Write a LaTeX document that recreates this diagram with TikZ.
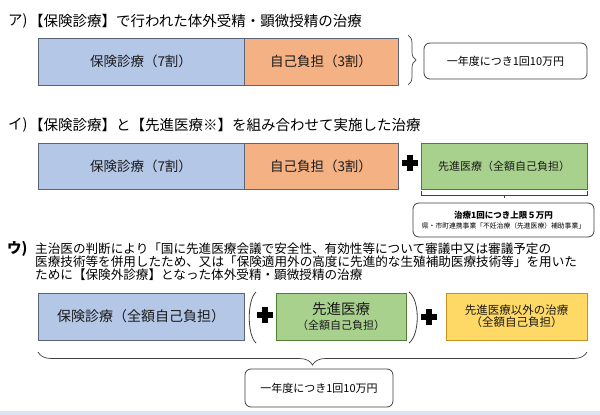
\documentclass[tikz,border=0pt]{standalone}
\usepackage{fontspec}
\setmainfont{Noto Sans CJK JP}
\usetikzlibrary{positioning,decorations.pathreplacing}
\definecolor{IvfBlue}{HTML}{B4C7E7}
\definecolor{IvfOrange}{HTML}{F4B183}
\definecolor{IvfGreen}{HTML}{A9D18E}
\definecolor{IvfYellow}{HTML}{FFD966}
\definecolor{IvfFrame}{HTML}{5B6577}
\definecolor{IvfGreenLine}{HTML}{507E32}
\definecolor{IvfYellowLine}{HTML}{C4901E}
\definecolor{IvfLine}{HTML}{404040}
\definecolor{IvfInk}{HTML}{1A1A1A}
\definecolor{IvfBand}{HTML}{DCE6F2}

\begin{document}
\begin{tikzpicture}[x=1pt,y=-1pt,
  part/.style={draw=IvfFrame,line width=0.8pt,minimum height=47pt,inner sep=0pt,
    outer sep=0pt,text=IvfInk,anchor=north west},
  memo/.style={draw=IvfLine,line width=0.8pt,rounded corners=6pt,fill=white,
    align=center,inner sep=0pt,outer sep=0pt},
  head/.style={anchor=west,inner sep=0pt,font=\fontsize{14.5}{17}\selectfont},
  plussign/.style={minimum size=16pt,inner sep=0pt,path picture={
    \fill[black] ([shift={(-8pt,-2.6pt)}]path picture bounding box.center)
      rectangle ([shift={(8pt,2.6pt)}]path picture bounding box.center);
    \fill[black] ([shift={(-2.6pt,-8pt)}]path picture bounding box.center)
      rectangle ([shift={(2.6pt,8pt)}]path picture bounding box.center);}},
  bracket/.style={IvfLine,line width=0.7pt,decorate}]
  \useasboundingbox[fill=white] (0,0) rectangle (600,415);
  \fill[IvfBand] (0,411) rectangle (600,415);

  % case A
  \node[head] (labA) at (8,21) {ア)};
  \node[head] (titleA) at (29,21) {【保険診療】で行われた体外受精・顕微授精の治療};
  \node[part,fill=IvfBlue,minimum width=206pt,font=\fontsize{13.5}{16}\selectfont]
    (insA) at (38,38) {保険診療（7割）};
  \node[part,fill=IvfOrange,minimum width=154pt,font=\fontsize{13.5}{16}\selectfont,
    right=0pt of insA] (selfA) {自己負担（3割）};
  \draw[bracket,decoration={brace,amplitude=8pt}]
    ([shift={(10pt,3pt)}]selfA.north east) -- ([xshift=10pt]selfA.south east);
  \node[memo,minimum width=163pt,minimum height=36pt,font=\fontsize{11}{13}\selectfont]
    (capA) at (505.5,61) {一年度につき1回10万円};

  % case B
  \node[head] (labB) at (8,125) {イ)};
  \node[head] (titleB) at (29,125) {【保険診療】と【先進医療※】を組み合わせて実施した治療};
  \node[part,fill=IvfBlue,minimum width=206pt,minimum height=46pt,
    font=\fontsize{13.5}{16}\selectfont] (insB) at (38,143) {保険診療（7割）};
  \node[part,fill=IvfOrange,minimum width=154pt,minimum height=46pt,
    font=\fontsize{13.5}{16}\selectfont,right=0pt of insB] (selfB) {自己負担（3割）};
  \node[plussign] (plusB) at (410,163) {};
  \node[part,fill=IvfGreen,draw=IvfGreenLine,minimum width=166pt,minimum height=46pt,
    font=\fontsize{11}{13}\selectfont] (advB) at (421,143) {先進医療（全額自己負担）};
  \draw[IvfLine,line width=0.6pt] ([yshift=-2pt]advB.south west)
    -- ([yshift=-6pt]advB.south west) -- ([yshift=-6pt]advB.south east)
    -- ([yshift=-2pt]advB.south east);
  \draw[IvfLine,line width=0.6pt] ([yshift=-6pt]advB.south) -- ([yshift=-9pt]advB.south);
  \node[memo,minimum width=181pt,minimum height=34pt,font=\fontsize{6.8}{10}\selectfont]
    (capB) at (503.5,220)
    {{\bfseries\fontsize{8.5}{10}\selectfont 治療1回につき上限５万円}\\
     県・市町連携事業「不妊治療（先進医療）補助事業」};

  % case C
  \node[head,font=\bfseries\fontsize{14.5}{17}\selectfont] (labC) at (7,249) {ウ)};
  \node[anchor=west,inner sep=0pt,align=left,font=\fontsize{12.6}{13}\selectfont]
    (textC) at (35,262)
    {主治医の判断により「国に先進医療会議で安全性、有効性等について審議中又は審議予定の\\
     医療技術等を併用したため、又は「保険適用外の高度に先進的な生殖補助医療技術等」を用いた\\
     ために【保険外診療】となった体外受精・顕微授精の治療};
  \node[part,fill=IvfBlue,minimum width=206pt,font=\fontsize{14}{17}\selectfont]
    (insC) at (38,293) {保険診療（全額自己負担）};
  \draw[IvfLine,line width=0.8pt] (256,292) .. controls (247,300) and (247,335) .. (256,343);
  \node[plussign] (plusC) at (265,315) {};
  \node[part,fill=IvfGreen,draw=IvfGreenLine,minimum width=130pt,align=center,
    font=\fontsize{11}{15}\selectfont] (advC) at (276,293)
    {{\fontsize{14.5}{15}\selectfont 先進医療}\\（全額自己負担）};
  \draw[IvfLine,line width=0.8pt] (409,292) .. controls (420,300) and (420,335) .. (409,343);
  \node[plussign] (plusD) at (429,317) {};
  \node[part,fill=IvfYellow,draw=IvfYellowLine,minimum width=141pt,align=center,
    font=\fontsize{11.5}{12}\selectfont] (othC) at (446,293)
    {先進医療以外の治療\\（全額自己負担）};
  \draw[bracket,decoration={brace,amplitude=13pt}]
    ([yshift=-12pt]othC.south east) -- ([yshift=-12pt]insC.south west);
  \node[memo,minimum width=148pt,minimum height=38pt,font=\fontsize{11}{13}\selectfont]
    (capC) at (319,388) {一年度につき1回10万円};
\end{tikzpicture}
\end{document}
